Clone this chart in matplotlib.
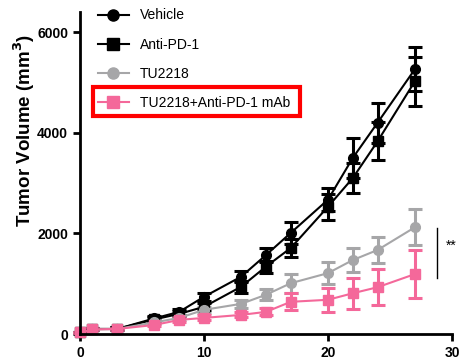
import matplotlib
matplotlib.use("Agg")
import matplotlib.pyplot as plt
from matplotlib.patches import Rectangle
from matplotlib.lines import Line2D

plt.rcParams['font.family'] = ['Liberation Sans', 'DejaVu Sans']

days = [0, 1, 3, 6, 8, 10, 13, 15, 17, 20, 22, 24, 27]

vehicle = [30, 100, 100, 310, 440, 740, 1140, 1570, 2010, 2670, 3500, 4200, 5260]
vehicle_err = [10, 20, 30, 40, 60, 80, 110, 130, 220, 230, 400, 400, 440]

anti_pd1 = [30, 100, 100, 290, 400, 540, 940, 1340, 1710, 2530, 3100, 3830, 5020]
anti_pd1_err = [10, 20, 30, 40, 50, 70, 120, 120, 170, 260, 300, 380, 480]

tu2218 = [30, 90, 100, 230, 320, 480, 600, 780, 1010, 1210, 1470, 1670, 2120]
tu2218_err = [10, 20, 20, 40, 50, 60, 80, 110, 190, 220, 240, 260, 360]

combo = [30, 90, 100, 180, 280, 320, 380, 440, 640, 680, 810, 930, 1190]
combo_err = [10, 20, 20, 30, 40, 50, 50, 70, 170, 240, 310, 360, 480]

labels = ['Vehicle', 'Anti-PD-1', 'TU2218', 'TU2218+Anti-PD-1 mAb']
colors = ['black', 'black', '#a6a6a8', '#f4689a']
markers = ['o', 's', 'o', 's']
series = [(vehicle, vehicle_err), (anti_pd1, anti_pd1_err),
          (tu2218, tu2218_err), (combo, combo_err)]

fig = plt.figure(figsize=(4.63, 3.62), dpi=100)
ax = fig.add_axes([80 / 463, 1 - 334 / 362, 372 / 463, 322 / 362])

handles = []
for (vals, errs), lab, col, mk in zip(series, labels, colors, markers):
    ax.errorbar(days, vals, yerr=errs, color=col, marker=mk, markersize=7,
                linewidth=1.5, elinewidth=2.2, capsize=5, capthick=2.2,
                clip_on=False)
    handles.append(Line2D([], [], color=col, marker=mk, markersize=8,
                          linewidth=1.5, label=lab))

ax.set_xlim(0, 30)
ax.set_ylim(0, 6400)
ax.set_xticks([0, 10, 20, 30])
ax.set_yticks([0, 2000, 4000, 6000])
for s in ['top', 'right']:
    ax.spines[s].set_visible(False)
for s in ['left', 'bottom']:
    ax.spines[s].set_linewidth(2)
ax.tick_params(width=2, length=5, labelsize=10)
for t in ax.get_xticklabels() + ax.get_yticklabels():
    t.set_fontweight('bold')

# y label sits above the axis centre in the original
fig.text(24 / 463, 1 - 130 / 362, 'Tumor Volume (mm$^{\\mathbf{3}}$)',
         rotation=90, fontsize=13.5, fontweight='bold', ha='center', va='center')

leg = ax.legend(handles=handles, loc='upper left', bbox_to_anchor=(0.015, 1.05),
                frameon=False, fontsize=10, handlelength=2.2, labelspacing=1.1)

# red box around the combo entry
fig.patches.append(Rectangle((93 / 463, 1 - 116 / 362), 207 / 463, 29 / 362,
                             transform=fig.transFigure, fill=False,
                             edgecolor='red', linewidth=3))

# significance bracket
fig.add_artist(Line2D([437 / 463, 437 / 463], [1 - 228 / 362, 1 - 278 / 362],
                      color='black', linewidth=1, transform=fig.transFigure))
fig.text(446 / 463, 1 - 246 / 362, '**', fontsize=10, va='center', ha='left')

fig.savefig('out.png', dpi=100)
